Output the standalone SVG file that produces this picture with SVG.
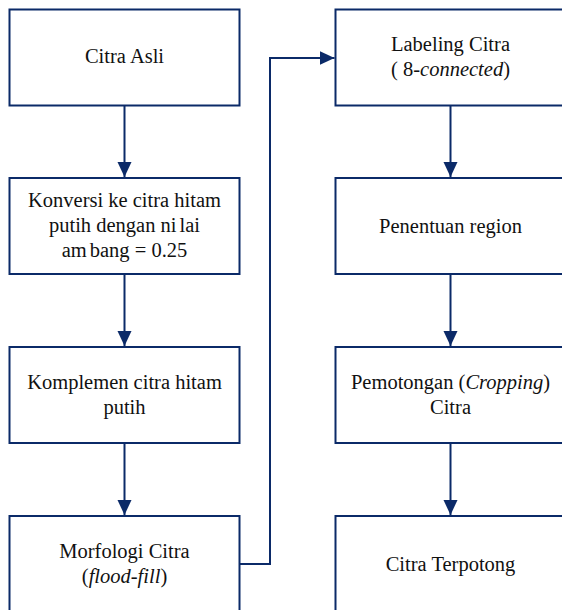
<svg xmlns="http://www.w3.org/2000/svg" width="562" height="610" viewBox="0 0 562 610">
<style>
.box{fill:#fff;stroke:#0b2a68;stroke-width:2}
.lbl{font-family:'Liberation Serif','DejaVu Serif',serif;font-size:20.5px;fill:#111;text-anchor:middle}
.con{fill:none;stroke:#0b2a68;stroke-width:2}
</style>
<defs>
<marker id="ah" markerUnits="userSpaceOnUse" markerWidth="16" markerHeight="16" viewBox="0 0 16 16" refX="15" refY="8" orient="auto">
<path d="M0,1 L15,8 L0,15 Z" fill="#0b2a68"/>
</marker>
</defs>
<g id="connectors">
<line class="con" x1="124.5" y1="105.5" x2="124.5" y2="177" marker-end="url(#ah)"/>
<line class="con" x1="124.5" y1="274" x2="124.5" y2="346" marker-end="url(#ah)"/>
<line class="con" x1="124.5" y1="443" x2="124.5" y2="515" marker-end="url(#ah)"/>
<polyline class="con" points="239.5,564 270,564 270,58 334.5,58" marker-end="url(#ah)"/>
<line class="con" x1="450.5" y1="105.5" x2="450.5" y2="177" marker-end="url(#ah)"/>
<line class="con" x1="450.5" y1="274" x2="450.5" y2="346" marker-end="url(#ah)"/>
<line class="con" x1="450.5" y1="443" x2="450.5" y2="515" marker-end="url(#ah)"/>
</g>
<g id="citra-asli">
<rect class="box" x="9.5" y="9.5" width="230" height="96"/>
<text class="lbl" x="124.5" y="63" font-family="Liberation Serif, serif">Citra Asli</text>
</g>
<g id="konversi">
<rect class="box" x="9.5" y="178" width="230" height="96"/>
<text class="lbl" x="124.5" y="207">Konversi ke citra hitam</text>
<text class="lbl" x="124.5" y="232">putih dengan ni<tspan dx="3">lai</tspan></text>
<text class="lbl" x="124.5" y="257">am<tspan dx="3">bang = 0.25</tspan></text>
</g>
<g id="komplemen">
<rect class="box" x="9.5" y="347" width="230" height="96"/>
<text class="lbl" x="124.5" y="389">Komplemen citra hitam</text>
<text class="lbl" x="124.5" y="414">putih</text>
</g>
<g id="morfologi">
<rect class="box" x="9.5" y="516" width="230" height="100"/>
<text class="lbl" x="124.5" y="558">Morfologi Citra</text>
<text class="lbl" x="124.5" y="583">(<tspan font-style="italic">flood-fill</tspan>)</text>
</g>
<g id="labeling">
<rect class="box" x="335.5" y="9.5" width="230" height="96"/>
<text class="lbl" x="450.5" y="51">Labeling Citra</text>
<text class="lbl" x="450.5" y="76">( 8-<tspan font-style="italic">connected</tspan>)</text>
</g>
<g id="penentuan">
<rect class="box" x="335.5" y="178" width="230" height="96"/>
<text class="lbl" x="450.5" y="233">Penentuan region</text>
</g>
<g id="pemotongan">
<rect class="box" x="335.5" y="347" width="230" height="96"/>
<text class="lbl" x="450.5" y="389">Pemotongan (<tspan font-style="italic">Cropping</tspan>)</text>
<text class="lbl" x="450.5" y="414">Citra</text>
</g>
<g id="citra-terpotong">
<rect class="box" x="335.5" y="516" width="230" height="100"/>
<text class="lbl" x="450.5" y="571">Citra Terpotong</text>
</g>
</svg>
